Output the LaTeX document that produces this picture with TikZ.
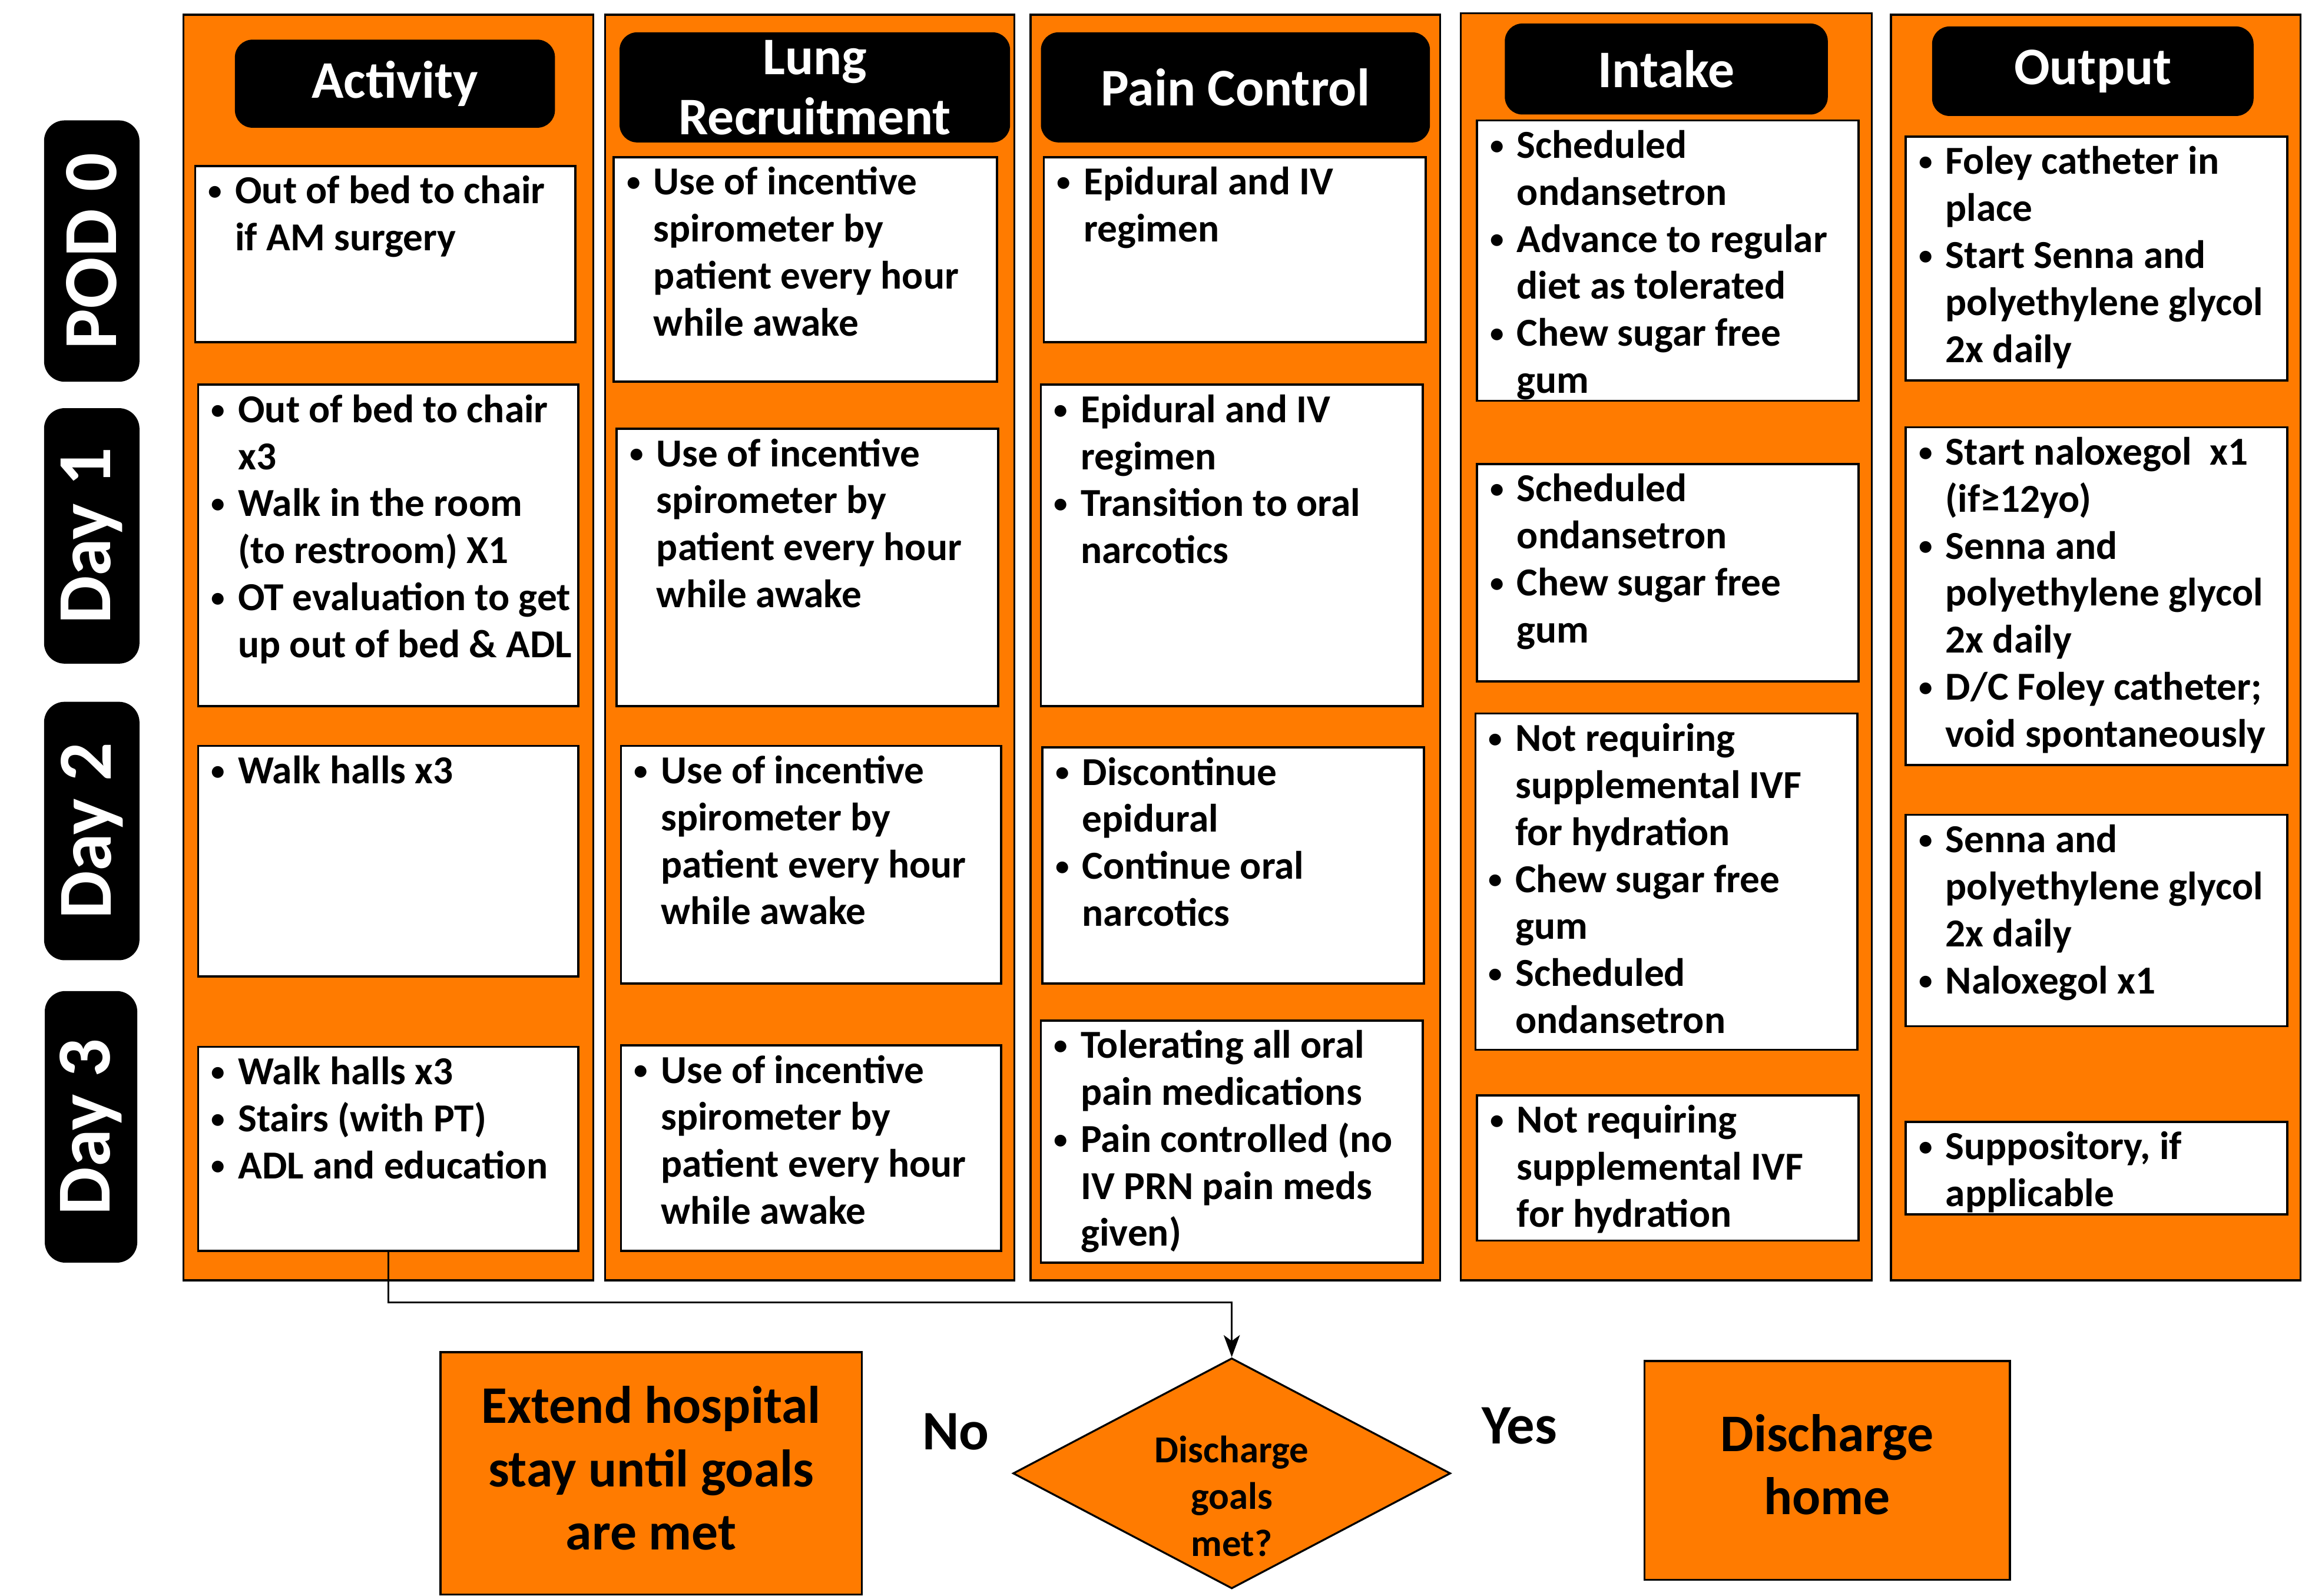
\documentclass[tikz,border=0pt]{standalone}
\usepackage{fontspec}
\setmainfont{Carlito}
\usetikzlibrary{shapes.geometric,arrows.meta,calc}
\definecolor{org}{RGB}{255,123,0}
\newcommand\B{\rule{0pt}{21pt}\makebox[27pt][c]{\raisebox{2.5pt}{\scalebox{0.7}{\textbullet}}}}
\newcommand\C{\hspace*{27pt}}
\newcommand\boxat[7][]{\node[#1, minimum width={#5pt-#3pt}, minimum height={#6pt-#4pt}] (#2) at ({(#3+#5)/2},{(#4+#6)/2}) {#7};}
\newcommand\wbox[6]{%
  \node[wb, minimum width={#4pt-#2pt}, minimum height={#5pt-#3pt}] (#1) at ({(#2+#4)/2},{(#3+#5)/2}) {};
  \node[btxt] (#1t) at (#2,#3+4.5) {#6};}
\begin{document}
\begin{tikzpicture}[x=1pt,y=-1pt,
  panel/.style={draw=black, line width=1.3pt, fill=org, inner sep=0pt, rectangle},
  wb/.style={draw=black, line width=1.5pt, fill=white, inner sep=0pt, rectangle},
  btxt/.style={anchor=north west, inner sep=0pt, align=left, font=\fontsize{27}{32}\selectfont\bfseries},
  hdr/.style={fill=black, rounded corners=12pt, text=white, inner sep=0pt, align=center, font=\fontsize{36}{41}\selectfont\bfseries},
  day/.style={fill=black, rounded corners=14pt, text=white, inner sep=0pt, rotate=90, font=\fontsize{52}{60}\selectfont\bfseries},
  obox/.style={draw=black, line width=1.3pt, fill=org, inner sep=0pt, align=center, font=\fontsize{36}{43}\selectfont\bfseries},
  otxt/.style={inner sep=0pt, align=center, font=\fontsize{36}{43}\selectfont\bfseries},
  lbl/.style={inner sep=0pt, font=\fontsize{38}{44}\selectfont\bfseries},
  conn/.style={draw=black, line width=1.2pt, -{Stealth[length=15pt,width=11pt,inset=4pt]}}
]
\useasboundingbox (0,0) rectangle (1568,1087);

% panels
\boxat[panel]{pA}{125}{10}{404}{872}{}
\boxat[panel]{pL}{412}{10}{691}{872}{}
\boxat[panel]{pP}{702}{10}{981}{872}{}
\boxat[panel]{pI}{995}{9}{1275}{872}{}
\boxat[panel]{pO}{1288}{10}{1567}{872}{}

% headers
\boxat[hdr]{hA}{160}{27}{378}{87}{Activity}
\boxat[hdr]{hL}{422}{22}{688}{97}{Lung\\Recruitment}
\boxat[hdr]{hP}{709}{22}{974}{97}{Pain Control}
\boxat[hdr]{hI}{1025}{16}{1245}{78}{Intake}
\boxat[hdr]{hO}{1316}{18}{1535}{79}{\raisebox{-2pt}{Output}}

% day labels
\node[day, minimum width=178pt, minimum height=65pt] (d0) at (62.5,171) {POD 0};
\node[day, minimum width=174pt, minimum height=65pt] (d1) at (62.5,365) {Day 1};
\node[day, minimum width=176pt, minimum height=65pt] (d2) at (62.5,566) {Day 2};
\node[day, minimum width=185pt, minimum height=63pt] (d3) at (62,767.5) {Day 3};

% Activity
\wbox{A0}{133}{113}{392}{233}{\B Out of bed to chair\\\C if AM surgery}
\wbox{A1}{135}{262}{394}{481}{\B Out of bed to chair\\\C x3\\\B Walk in the room\\\C (to restroom) X1\\\B OT evaluation to get\\\C up out of bed \& ADL}
\wbox{A2}{135}{508}{394}{665}{\B Walk halls x3}
\wbox{A3}{135}{713}{394}{852}{\B Walk halls x3\\\B Stairs (with PT)\\\B ADL and education}

% Lung
\wbox{L0}{418}{107}{679}{260}{\B Use of incentive\\\C spirometer by\\\C patient every hour\\\C while awake}
\wbox{L1}{420}{292}{680}{481}{\B Use of incentive\\\C spirometer by\\\C patient every hour\\\C while awake}
\wbox{L2}{423}{508}{682}{670}{\B Use of incentive\\\C spirometer by\\\C patient every hour\\\C while awake}
\wbox{L3}{423}{712}{682}{852}{\B Use of incentive\\\C spirometer by\\\C patient every hour\\\C while awake}

% Pain
\wbox{P0}{711}{107}{971}{233}{\B Epidural and IV\\\C regimen}
\wbox{P1}{709}{262}{969}{481}{\B Epidural and IV\\\C regimen\\\B Transition to oral\\\C narcotics}
\wbox{P2}{710}{509}{970}{670}{\B Discontinue\\\C epidural\\\B Continue oral\\\C narcotics}
\wbox{P3}{709}{695}{969}{860}{\B Tolerating all oral\\\C pain medications\\\B Pain controlled (no\\\C IV PRN pain meds\\\C given)}

% Intake
\wbox{I0}{1006}{82}{1266}{273}{\B Scheduled\\\C ondansetron\\\B Advance to regular\\\C diet as tolerated\\\B Chew sugar free\\\C gum}
\wbox{I1}{1006}{316}{1266}{464}{\B Scheduled\\\C ondansetron\\\B Chew sugar free\\\C gum}
\wbox{I2}{1005}{486}{1265}{715}{\B Not requiring\\\C supplemental IVF\\\C for hydration\\\B Chew sugar free\\\C gum\\\B Scheduled\\\C ondansetron}
\wbox{I3}{1006}{746}{1266}{845}{\B Not requiring\\\C supplemental IVF\\\C for hydration}

% Output
\wbox{O0}{1298}{93}{1558}{259}{\B Foley catheter in\\\C place\\\B Start Senna and\\\C polyethylene glycol\\\C 2x daily}
\wbox{O1}{1298}{291}{1558}{521}{\B Start naloxegol~ x1\\\C (if≥12yo)\\\B Senna and\\\C polyethylene glycol\\\C 2x daily\\\B D/C Foley catheter;\\\C void spontaneously}
\wbox{O2}{1298}{555}{1558}{699}{\B Senna and\\\C polyethylene glycol\\\C 2x daily\\\B Naloxegol x1}
\wbox{O3}{1298}{764}{1558}{827}{\B Suppository, if\\\C applicable}

% bottom
\boxat[obox]{ext}{300}{921}{587}{1086}{}
\node[otxt] (extt) at (443.5,1000) {Extend hospital\\stay until goals\\are met};
\node[diamond, draw=black, line width=1.3pt, fill=org, minimum width=298pt, minimum height=157pt, inner sep=0pt] (dia) at (839,1003.5) {};
\node[inner sep=0pt, align=center, font=\fontsize{26}{32}\selectfont\bfseries] (diat) at (839,1019) {Discharge\\goals\\met?};
\boxat[obox]{home}{1120}{927}{1369}{1076}{}
\node[otxt] (homet) at (1244.5,997.5) {Discharge\\home};
\node[lbl] (no) at (651,975) {No};
\node[lbl] (yes) at (1035,971) {Yes};

% connector
\coordinate (turn) at (264.5,887);
\draw[conn] (A3.south) -- (A3.south |- turn) -| (dia.north);
\end{tikzpicture}
\end{document}
